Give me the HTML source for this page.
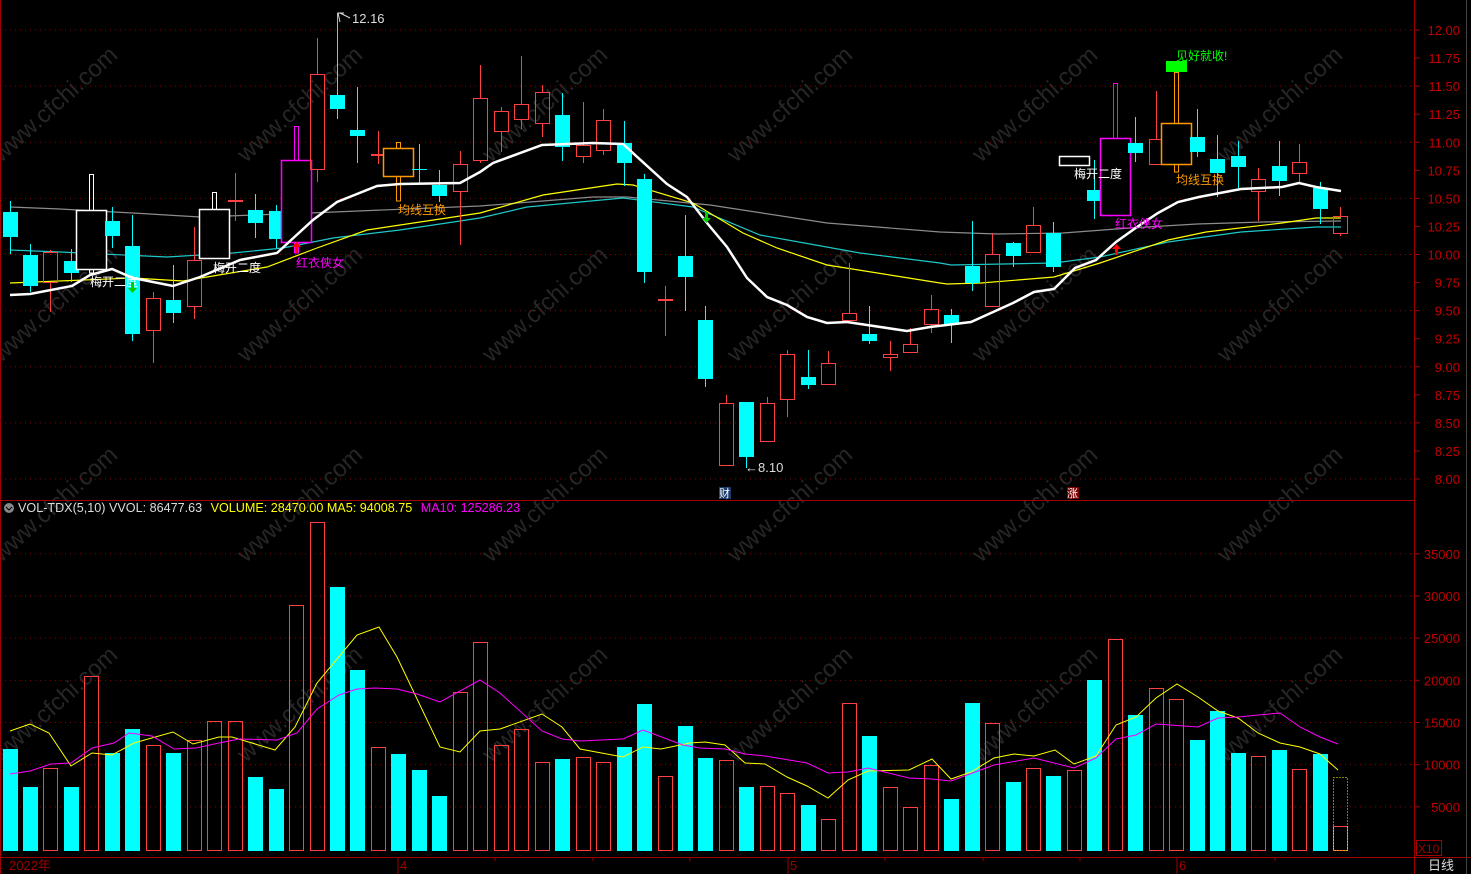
<!DOCTYPE html>
<html><head><meta charset="utf-8"><style>
html,body{margin:0;padding:0;background:#000;}
svg{display:block;}
text{font-family:"Liberation Sans","Noto Sans CJK SC",sans-serif;}
</style></head><body>
<svg id="s" width="1471" height="874" xmlns="http://www.w3.org/2000/svg"></svg>
<script>
const S=document.getElementById('s');let h='';
const R='#ff4040',C='#00ffff',GR='#a00000';
function X(i){return 9.5+i*20.47;}
function py(p){return 30+(12-p)*112.25;}
for(let r=0;r<4;r++)for(let c=0;c<6;c++){const x=60+c*245,y=110+r*200;
h+=`<text x="${x}" y="${y}" fill="#262626" font-size="24" transform="rotate(-42 ${x} ${y})" text-anchor="middle">www.cfchi.com</text>`;}
for(let p=8;p<=12.001;p+=0.5){const y=py(p);h+=`<line x1="0" x2="1414" y1="${y}" y2="${y}" stroke="#8a0000" stroke-dasharray="1,4"/>`;}
for(let v=5000;v<=35000;v+=5000){const y=849-v/5000*42.17;h+=`<line x1="0" x2="1414" y1="${y}" y2="${y}" stroke="#8a0000" stroke-dasharray="1,4"/>`;
h+=`<line x1="1414" x2="1420" y1="${y}" y2="${y}" stroke="${GR}"/><text x="1460" y="${y+5}" fill="#c00000" font-size="13" text-anchor="end">${v}</text>`;}
for(let k=0;k<=16;k++){const p=8+k*0.25,y=py(p);h+=`<line x1="1414" x2="1420" y1="${y}" y2="${y}" stroke="${GR}"/><text x="1460" y="${y+5}" fill="#c00000" font-size="13" text-anchor="end">${p.toFixed(2)}</text>`;}
h+=`<line x1="1414.5" x2="1414.5" y1="0" y2="874" stroke="${GR}"/>`;
h+=`<line x1="0" x2="1414" y1="500.5" y2="500.5" stroke="${GR}"/>`;
h+=`<line x1="0" x2="1471" y1="857.5" y2="857.5" stroke="${GR}"/>`;
h+=`<line x1="0.5" x2="0.5" y1="0" y2="874" stroke="${GR}"/>`;
h+=`<line x1="1466.5" x2="1466.5" y1="0" y2="874" stroke="#444"/>`;
[398,788,1177].forEach((x,i)=>{h+=`<line x1="${x}" x2="${x}" y1="857" y2="874" stroke="${GR}"/><text x="${x+2}" y="870" fill="${GR}" font-size="13">${['4','5','6'][i]}</text>`;});
[495,593,690,885,983,1080,1275].forEach(x=>{h+=`<line x1="${x}" x2="${x}" y1="857" y2="861" stroke="${GR}"/>`;});
h+=`<text x="9" y="870" fill="${GR}" font-size="13">2022年</text>`;
h+=`<text x="1428" y="870" fill="#ddd" font-size="13">日线</text>`;
h+=`<rect x="1416.5" y="840.5" width="25" height="15" fill="none" stroke="${GR}"/><text x="1418" y="853" fill="${GR}" font-size="12">X10</text>`;
const D=[['c',212,237,201,254],['c',255,286,244,292],['r',252,283,250,312],['c',261,273,249,282],['w',210,269,174,273],['c',221,236,207,248],['c',246,334,215,341],['r',298,331,292,363],['c',300,313,265,323],['r',260,307,227,319],['w',209,258,192,258],['r',200,202,173,221],['c',210,223,194,238],['c',211,239,205,248],['m',160,242,126,253],['r',74,170,38,182],['c',95,109,13,119],['c',130,136,87,163],['r',154,156,131,164],['o',148,176,142,201],['c',169,170,144,183],['c',185,196,170,202],['r',164,192,151,245],['r',98,161,65,163],['r',111,132,107,152],['r',104,120,56,129],['r',92,124,85,137],['c',115,147,93,161],['r',145,157,102,163],['r',120,151,109,155],['c',143,163,121,186],['c',179,272,174,283],['r',299,301,286,336],['c',256,277,215,311],['c',320,379,306,387],['r',403,466,395,466],['c',402,457,402,468],['r',403,442,397,442],['r',354,400,350,417],['c',377,385,350,389],['r',363,385,351,385],['r',313,321,263,321],['c',334,341,306,344],['r',354,358,341,371],['r',344,353,328,353],['r',309,325,295,333],['c',315,325,309,343],['c',266,283,221,291],['r',254,307,233,307],['c',243,256,242,267],['r',225,253,207,253],['c',233,267,222,272],['w',156,165,156,165],['c',190,201,160,219],['m',138,215,83,215],['c',143,153,117,162],['r',139,165,91,165],['o',123,164,72,172],['c',137,152,109,157],['c',159,173,135,197],['c',156,167,141,188],['r',179,192,168,221],['c',166,181,141,196],['r',162,174,144,183],['c',188,209,182,224],['r',216,234,207,236]];
let cs='';
D.forEach((d,i)=>{const x=Math.round(X(i));const [t,a,b,wt,wb]=d;
if(t==='c'){cs+=`<line x1="${x+.5}" x2="${x+.5}" y1="${wt}" y2="${wb}" stroke="${C}"/><rect x="${x-7}" y="${a}" width="15" height="${Math.max(b-a,1)}" fill="${C}"/>`;}
else if(t==='r'){cs+=`<line x1="${x+.5}" x2="${x+.5}" y1="${wt}" y2="${a}" stroke="${R}"/><line x1="${x+.5}" x2="${x+.5}" y1="${b}" y2="${wb}" stroke="${R}"/><rect x="${x-6.5}" y="${a+.5}" width="14" height="${Math.max(b-a-1,1)}" fill="none" stroke="${R}"/>`;}
else{const col={w:'#fff',m:'#ff00ff',o:'#ff9900'}[t];
if(wt<a)cs+=`<rect x="${x-1.5}" y="${wt+.5}" width="4" height="${a-wt}" fill="none" stroke="${col}"/>`;
if(wb>b)cs+=`<rect x="${x-1.5}" y="${b}" width="4" height="${wb-b}" fill="none" stroke="${col}"/>`;
cs+=`<rect x="${x-14.5}" y="${a+.5}" width="30" height="${b-a}" fill="#000" stroke="${col}" stroke-width="1.5"/>`;}
});
function pl(pts,col,w){return `<polyline points="${pts.map(p=>p.join(',')).join(' ')}" fill="none" stroke="${col}" stroke-width="${w}"/>`;}
const gray=[[10,207],[60,209],[133,213],[200,217],[310,213],[480,206],[593,197],[627,197],[710,205],[827,223],[940,232],[997,234],[1063,233],[1130,228],[1197,224],[1263,222],[1341,221]];
const cyan=[[10,250],[60,252],[167,257],[233,253],[283,248],[333,238],[400,230],[480,218],[527,207],[623,198],[693,207],[760,235],[860,253],[940,263],[951,265],[1054,263],[1100,257],[1168,242],[1241,232],[1316,227],[1341,227]];
const yel=[[10,283],[133,278],[183,281],[267,267],[317,248],[367,230],[480,213],[543,195],[617,184],[633,185],[693,203],[743,233],[777,248],[827,265],[940,283],[947,284],[981,283],[1054,277],[1100,263],[1168,240],[1206,232],[1282,223],[1316,218],[1341,218]];
const wh=[[10,295],[30,294],[72,286],[90,275],[112,269],[133,278],[173,286],[200,277],[240,260],[277,253],[313,220],[337,202],[377,186],[400,184],[460,183],[480,172],[493,163],[542,145],[593,143],[623,144],[667,184],[687,197],[707,223],[727,247],[747,278],[767,297],[787,305],[807,317],[827,323],[847,322],[907,331],[930,327],[971,322],[1013,303],[1034,292],[1054,289],[1075,268],[1096,260],[1116,242],[1137,227],[1158,213],[1178,202],[1199,197],[1241,189],[1282,187],[1299,183],[1316,187],[1341,191]];
h+=pl(gray,'#8c8c8c',1.2)+pl(cyan,'#1ec8c8',1.2)+pl(yel,'#ffff00',1.2);
h+=cs;
h+=pl(wh,'#ffffff',2.5);
h+=`<rect x="1166" y="61" width="21" height="11" fill="#00ff00"/>`;
h+=`<text x="1176" y="60" fill="#00ff00" font-size="12">见好就收!</text>`;
[[90,286,'梅开二度','#fff'],[213,272,'梅开二度','#fff'],[1074,178,'梅开二度','#fff'],[296,267,'红衣侠女','#ff00ff'],[1115,228,'红衣侠女','#ff00ff'],[398,214,'均线互换','#ff9900'],[1176,184,'均线互换','#ff9900']].forEach(t=>{h+=`<text x="${t[0]}" y="${t[1]}" fill="${t[3]}" font-size="12">${t[2]}</text>`;});
[[132,282],[706,212]].forEach(a=>{h+=`<path d="M${a[0]-1} ${a[1]} h3 v6 h3 l-4.5 5 l-4.5 -5 h3z" fill="#00cc00"/>`;});
[[296,242],[1116,244]].forEach(a=>{h+=`<path d="M${a[0]+.5} ${a[1]} l4.5 5 h-3 v6 h-3 v-6 h-3z" fill="#ff0000"/>`;});
h+=`<polyline points="340,22 338,13 344,13" fill="none" stroke="#ddd"/><line x1="340" x2="350" y1="13" y2="18" stroke="#ddd"/><text x="352" y="23" fill="#ddd" font-size="13">12.16</text>`;
h+=`<text x="745" y="472" fill="#ddd" font-size="13">←8.10</text>`;
h+=`<rect x="719" y="487" width="12" height="12" fill="#1a3a6a"/><text x="719" y="497" fill="#fff" font-size="11">财</text>`;
h+=`<rect x="1067" y="487" width="12" height="12" fill="#7a0000"/><text x="1067" y="497" fill="#fff" font-size="11">涨</text>`;
h+=`<circle cx="9" cy="508" r="5" fill="#888"/><path d="M6 507 l3 3 l3 -3" stroke="#000" fill="none"/>`;
h+=`<text x="18" y="512" font-size="12.6"><tspan fill="#ddd">VOL-TDX(5,10) VVOL: 86477.63 </tspan><tspan fill="#ffff00" dx="5">VOLUME: 28470.00 MA5: 94008.75 </tspan><tspan fill="#ff00ff" dx="5">MA10: 125286.23</tspan></text>`;
const VT=[749,787,768,787,676,753,729,745,753,740,721,721,777,789,605,522,587,670,747,754,770,796,692,642,745,729,762,759,757,762,747,704,776,726,758,760,787,786,793,805,819,703,736,787,807,765,799,703,723,782,768,776,770,680,639,715,688,699,740,711,753,756,750,769,754,826];
const VC='ccrcrccrcrrrccrrccrcccrrrrrcrrccrccrcrrcrrcrrrccrcrcrcrcrrcccrcrcr';
VT.forEach((t,i)=>{const x=Math.round(X(i));
if(VC[i]==='c')h+=`<rect x="${x-7}" y="${t}" width="15" height="${851-t}" fill="${C}"/>`;
else h+=`<rect x="${x-6.5}" y="${t+.5}" width="14" height="${850-t}" fill="none" stroke="${R}"/>`;});
h+=`<rect x="${Math.round(X(65))-6.5}" y="777.5" width="14" height="73" fill="none" stroke="#ffff00" stroke-dasharray="1,2"/>`;
const vy=[[10,731],[30,724],[49,733],[71,766],[92,753],[112,755],[134,743],[173,732],[193,744],[219,737],[232,737],[275,750],[295,727],[317,683],[357,635],[379,627],[397,657],[440,747],[460,752],[480,731],[500,729],[542,714],[562,727],[580,749],[623,757],[643,747],[661,749],[690,743],[705,742],[725,745],[745,763],[765,764],[787,777],[807,786],[828,798],[848,780],[868,771],[909,770],[932,759],[951,779],[971,772],[994,758],[1014,754],[1034,756],[1055,750],[1074,764],[1096,756],[1116,725],[1136,717],[1156,698],[1177,684],[1198,697],[1218,711],[1238,718],[1258,733],[1280,743],[1300,747],[1320,754],[1338,770]];
const vm=[[10,774],[30,771],[51,764],[71,763],[92,748],[114,743],[129,733],[152,736],[174,749],[196,748],[219,743],[239,739],[277,740],[297,733],[317,709],[339,695],[357,689],[375,688],[397,689],[417,694],[440,702],[480,680],[500,693],[542,731],[562,739],[580,741],[623,739],[643,730],[683,745],[700,748],[725,749],[745,754],[765,756],[807,763],[828,773],[848,772],[868,768],[909,778],[932,779],[951,781],[994,765],[1034,758],[1074,768],[1096,758],[1116,739],[1136,735],[1156,724],[1198,727],[1218,718],[1238,717],[1258,715],[1280,713],[1300,727],[1320,737],[1338,744]];
h+=pl(vy,'#ffff00',1)+pl(vm,'#ff00ff',1);
S.innerHTML=h;
</script>
</body></html>
